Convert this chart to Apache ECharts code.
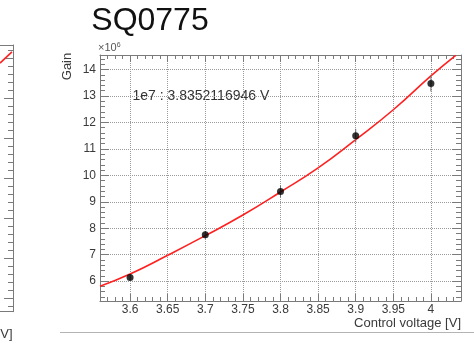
<!DOCTYPE html>
<html><head><meta charset="utf-8">
<script src="https://cdn.jsdelivr.net/npm/echarts/dist/echarts.min.js"></script>
<style>html,body{margin:0;padding:0;background:#fff}#c{width:474px;height:347px}</style>
</head><body><div id="c"></div>
<script>
// Data
const voltages = [3.6, 3.7, 3.8, 3.9, 4.0];
const gains = [6.14, 7.75, 9.39, 11.5, 13.47];          // x10^6
const gainErrors = [0.12, 0.15, 0.22, 0.26, 0.30];
const fitVoltages = [3.56, 3.6, 3.65, 3.7, 3.75, 3.8, 3.85, 3.9, 3.95, 4.0, 4.033];
const fitGains = [5.81, 6.27, 6.98, 7.72, 8.5, 9.37, 10.28, 11.35, 12.48, 13.76, 14.54];
// fragment of the neighbouring (cut-off) chart on the left
const prevFitVoltages = [4.0223, 4.0386];
const prevFitValues = [5.88, 6.16];

const titleText = 'SQ0775';
const fitLabel = '1e7 : 3.8352116946 V';
const xAxisName = 'Control voltage [V]';
const yAxisName = 'Gain';
const prevAxisNameTail = 'V]';

const FONT = '"Liberation Sans", Arial, sans-serif';
const frameColor = '#7a7a7a';
const tickColor = '#7a7a7a';
const gridColor = '#9a9a9a';
const labelColor = '#3a3a3a';

const isMultiple = (v, step) => Math.abs(v / step - Math.round(v / step)) < 1e-6;

const chart = echarts.init(document.getElementById('c'), null, {renderer: 'canvas'});

const mainX = {min: 3.56, max: 4.04, splitNumber: 10};
const mainY = {min: 5.25, max: 14.55, splitNumber: 10};

const option = {
  animation: false,
  backgroundColor: '#fff',
  grid: [
    {left: 100, top: 55, width: 361, height: 246, show: false, containLabel: false, outerBoundsMode: 'none'},
    {left: -340, top: 45, width: 353, height: 266.7, show: false, containLabel: false, outerBoundsMode: 'none'}
  ],
  xAxis: [
    {
      gridIndex: 0, type: 'value', position: 'bottom', ...mainX,
      axisLine: {show: true, onZero: false, lineStyle: {color: frameColor, width: 1}},
      axisTick: {show: true, inside: true, length: 7, lineStyle: {color: tickColor}},
      minorTick: {show: true, splitNumber: 5, length: 4, lineStyle: {color: tickColor}},
      axisLabel: {show: true, margin: 3, fontSize: 12, fontFamily: FONT, color: labelColor,
        formatter: v => isMultiple(v, 0.05) ? String(+v.toFixed(2)) : ''},
      splitLine: {show: true, lineStyle: {type: 'dotted', color: gridColor, width: 1}},
      minorSplitLine: {show: false}
    },
    {
      gridIndex: 0, type: 'value', position: 'top', ...mainX,
      axisLine: {show: true, onZero: false, lineStyle: {color: frameColor, width: 1}},
      axisTick: {show: true, inside: true, length: 7, lineStyle: {color: tickColor}},
      minorTick: {show: true, splitNumber: 5, length: 4, lineStyle: {color: tickColor}},
      axisLabel: {show: false},
      splitLine: {show: false}
    },
    {
      gridIndex: 1, type: 'value', position: 'bottom', min: 3.56, max: 4.04,
      axisLine: {show: true, onZero: false, lineStyle: {color: frameColor, width: 1}},
      axisTick: {show: false}, axisLabel: {show: false}, splitLine: {show: false}
    },
    {
      gridIndex: 1, type: 'value', position: 'top', min: 3.56, max: 4.04,
      axisLine: {show: true, onZero: false, lineStyle: {color: frameColor, width: 1}},
      axisTick: {show: false}, axisLabel: {show: false}, splitLine: {show: false}
    }
  ],
  yAxis: [
    {
      gridIndex: 0, type: 'value', position: 'left', ...mainY,
      axisLine: {show: true, onZero: false, lineStyle: {color: frameColor, width: 1}},
      axisTick: {show: true, inside: true, length: 9, lineStyle: {color: tickColor}},
      minorTick: {show: true, splitNumber: 5, length: 5, lineStyle: {color: tickColor}},
      axisLabel: {show: true, margin: 4, fontSize: 12, fontFamily: FONT, color: labelColor,
        formatter: v => isMultiple(v, 1) ? String(Math.round(v)) : ''},
      splitLine: {show: true, lineStyle: {type: 'dotted', color: gridColor, width: 1}}
    },
    {
      gridIndex: 0, type: 'value', position: 'right', ...mainY,
      axisLine: {show: true, onZero: false, lineStyle: {color: frameColor, width: 1}},
      axisTick: {show: true, inside: true, length: 9, lineStyle: {color: tickColor}},
      minorTick: {show: true, splitNumber: 5, length: 5, lineStyle: {color: tickColor}},
      axisLabel: {show: false},
      splitLine: {show: false}
    },
    {
      gridIndex: 1, type: 'value', position: 'right', min: -0.335, max: 6.3325, splitNumber: 7,
      axisLine: {show: true, onZero: false, lineStyle: {color: frameColor, width: 1}},
      axisTick: {show: true, inside: true, length: 9, lineStyle: {color: tickColor}},
      minorTick: {show: true, splitNumber: 5, length: 5, lineStyle: {color: tickColor}},
      axisLabel: {show: false},
      splitLine: {show: false}
    }
  ],
  graphic: [
    {type: 'text', x: 150, y: 21.5,
      style: {text: titleText, font: '32px ' + FONT, fill: '#111', textAlign: 'center', textVerticalAlign: 'middle'}},
    {type: 'text', x: 98, y: 48,
      style: {text: '×10{s|6}', font: '11px ' + FONT, fill: '#555', textVerticalAlign: 'middle',
        rich: {s: {fontSize: 7, fontFamily: FONT, fill: '#555', verticalAlign: 'top', padding: [0, 0, 6, 0]}}}},
    {type: 'text', x: 67, y: 66.5, rotation: Math.PI / 2,
      style: {text: yAxisName, font: '13px ' + FONT, fill: labelColor, textAlign: 'center', textVerticalAlign: 'middle'}},
    {type: 'text', x: 132.5, y: 96.5,
      style: {text: fitLabel, font: '14px ' + FONT, fill: '#333', textAlign: 'left', textVerticalAlign: 'middle'}},
    {type: 'text', x: 461, y: 323,
      style: {text: xAxisName, font: '13px ' + FONT, fill: labelColor, textAlign: 'right', textVerticalAlign: 'middle'}},
    {type: 'text', x: 12.5, y: 334,
      style: {text: prevAxisNameTail, font: '13px ' + FONT, fill: labelColor, textAlign: 'right', textVerticalAlign: 'middle'}},
    {type: 'line', shape: {x1: 60, y1: 332.5, x2: 474, y2: 332.5}, style: {stroke: '#b4b4b4', lineWidth: 1}}
  ],
  series: [
    {
      name: 'fit', type: 'line', xAxisIndex: 0, yAxisIndex: 0,
      data: fitVoltages.map((v, i) => [v, fitGains[i]]),
      smooth: true, showSymbol: false, symbol: 'none',
      lineStyle: {color: '#ff2020', width: 1.6}, clip: true, z: 4
    },
    {
      name: 'errors', type: 'custom', xAxisIndex: 0, yAxisIndex: 0,
      data: voltages.map((v, i) => [v, gains[i] - gainErrors[i], gains[i] + gainErrors[i]]),
      renderItem: (params, api) => {
        const lo = api.coord([api.value(0), api.value(1)]);
        const hi = api.coord([api.value(0), api.value(2)]);
        return {type: 'line', shape: {x1: lo[0], y1: lo[1], x2: hi[0], y2: hi[1]},
          style: {stroke: '#6a6a6a', lineWidth: 1}};
      },
      z: 5
    },
    {
      name: 'gain', type: 'scatter', xAxisIndex: 0, yAxisIndex: 0,
      data: voltages.map((v, i) => [v, gains[i]]),
      symbol: 'circle', symbolSize: 7, itemStyle: {color: '#000'}, z: 6
    },
    {
      name: 'prevFit', type: 'line', xAxisIndex: 2, yAxisIndex: 2,
      data: prevFitVoltages.map((v, i) => [v, prevFitValues[i]]),
      showSymbol: false, symbol: 'none',
      lineStyle: {color: '#ff2020', width: 1.6}, clip: true
    }
  ]
};
chart.setOption(option);
</script>
</body></html>
